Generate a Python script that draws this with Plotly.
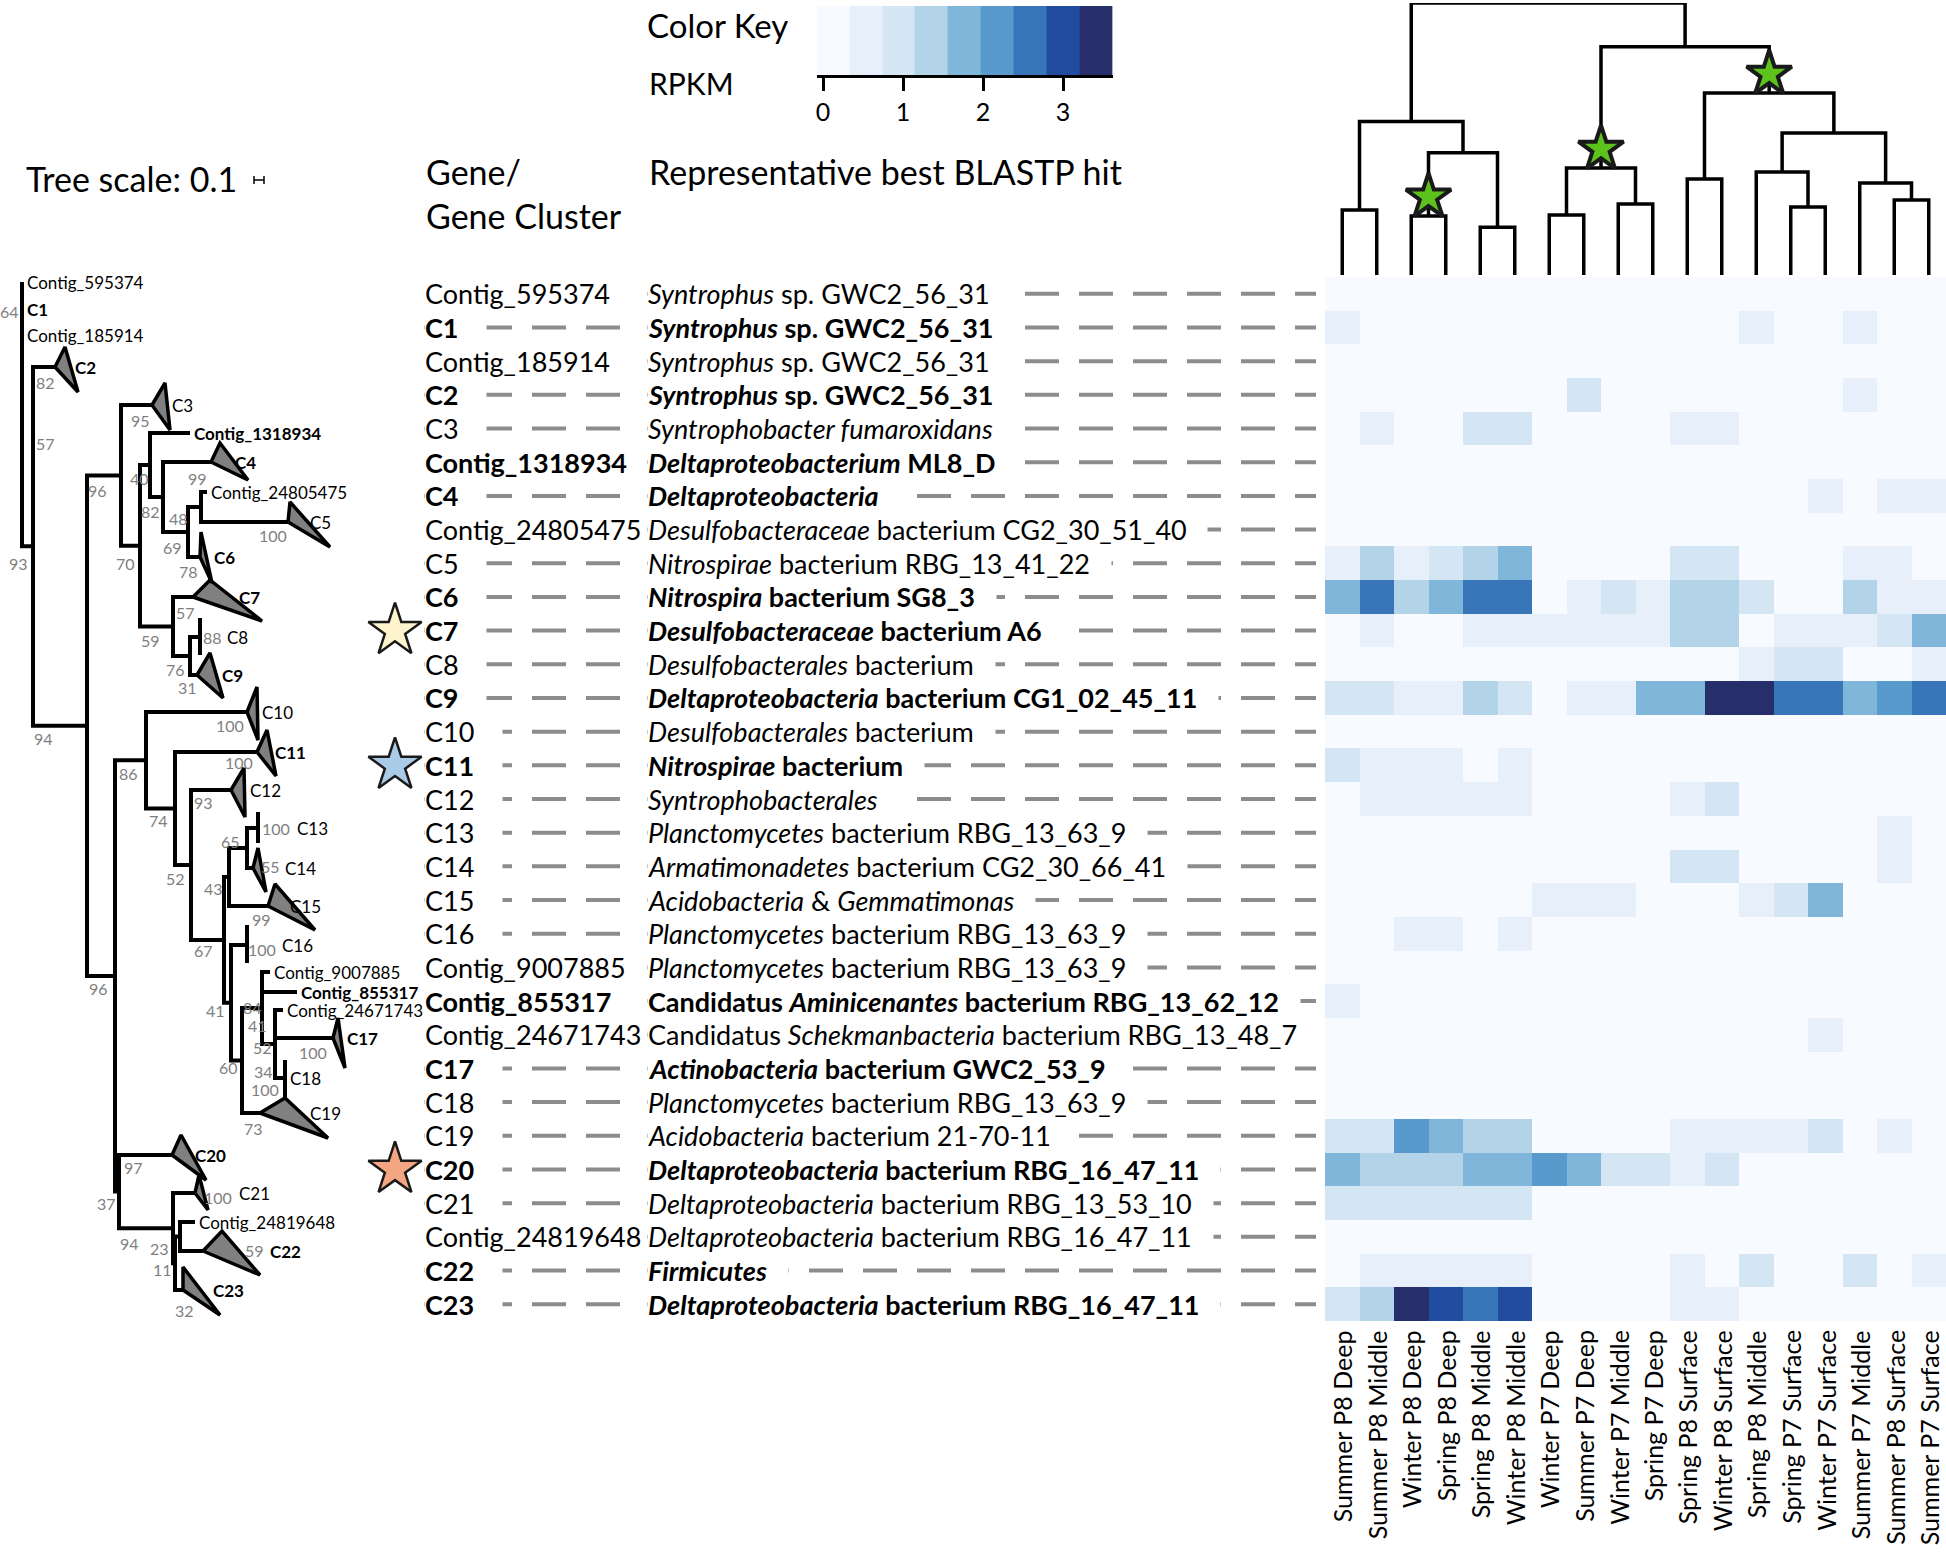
import plotly.graph_objects as go

FIG_W, FIG_H = 1946, 1563
FONT = "Lato"
NBSP = "\u00a0"

# ---------------------------------------------------------------- data
samples = ["Summer P8 Deep", "Summer P8 Middle", "Winter P8 Deep", "Spring P8 Deep",
           "Spring P8 Middle", "Winter P8 Middle", "Winter P7 Deep", "Summer P7 Deep",
           "Winter P7 Middle", "Spring P7 Deep", "Spring P8 Surface", "Winter P8 Surface",
           "Spring P8 Middle", "Spring P7 Surface", "Winter P7 Surface", "Summer P7 Middle",
           "Summer P8 Surface", "Summer P7 Surface"]

genes = ["Contig_595374", "C1", "Contig_185914", "C2", "C3", "Contig_1318934", "C4",
         "Contig_24805475", "C5", "C6", "C7", "C8", "C9", "C10", "C11", "C12", "C13",
         "C14", "C15", "C16", "Contig_9007885", "Contig_855317", "Contig_24671743",
         "C17", "C18", "C19", "C20", "C21", "Contig_24819648", "C22", "C23"]

bold_genes = {"C1", "C2", "Contig_1318934", "C4", "C6", "C7", "C9", "C11",
              "Contig_855317", "C17", "C20", "C22", "C23"}

hits = ["<i>Syntrophus</i> sp. GWC2_56_31",
        "<i>Syntrophus</i> sp. GWC2_56_31",
        "<i>Syntrophus</i> sp. GWC2_56_31",
        "<i>Syntrophus</i> sp. GWC2_56_31",
        "<i>Syntrophobacter fumaroxidans</i>",
        "<i>Deltaproteobacterium</i> ML8_D",
        "<i>Deltaproteobacteria</i>",
        "<i>Desulfobacteraceae</i> bacterium CG2_30_51_40",
        "<i>Nitrospirae</i> bacterium RBG_13_41_22",
        "<i>Nitrospira</i> bacterium SG8_3",
        "<i>Desulfobacteraceae</i> bacterium A6",
        "<i>Desulfobacterales</i> bacterium",
        "<i>Deltaproteobacteria</i> bacterium CG1_02_45_11",
        "<i>Desulfobacterales</i> bacterium",
        "<i>Nitrospirae</i> bacterium",
        "<i>Syntrophobacterales</i>",
        "<i>Planctomycetes</i> bacterium RBG_13_63_9",
        "<i>Armatimonadetes</i> bacterium CG2_30_66_41",
        "<i>Acidobacteria</i> &amp; <i>Gemmatimonas</i>",
        "<i>Planctomycetes</i> bacterium RBG_13_63_9",
        "<i>Planctomycetes</i> bacterium RBG_13_63_9",
        "Candidatus <i>Aminicenantes</i> bacterium RBG_13_62_12",
        "Candidatus <i>Schekmanbacteria</i> bacterium RBG_13_48_7",
        "<i>Actinobacteria</i> bacterium GWC2_53_9",
        "<i>Planctomycetes</i> bacterium RBG_13_63_9",
        "<i>Acidobacteria</i> bacterium 21-70-11",
        "<i>Deltaproteobacteria</i> bacterium RBG_16_47_11",
        "<i>Deltaproteobacteria</i> bacterium RBG_13_53_10",
        "<i>Deltaproteobacteria</i> bacterium RBG_16_47_11",
        "<i>Firmicutes</i>",
        "<i>Deltaproteobacteria</i> bacterium RBG_16_47_11"]

# RPKM per gene (rows) and sample (columns)
rpkm = [
    [0, 0, 0, 0, 0, 0, 0, 0, 0, 0, 0, 0, 0, 0, 0, 0, 0, 0],
    [.5, 0, 0, 0, 0, 0, 0, 0, 0, 0, 0, 0, .5, 0, 0, .5, 0, 0],
    [0, 0, 0, 0, 0, 0, 0, 0, 0, 0, 0, 0, 0, 0, 0, 0, 0, 0],
    [0, 0, 0, 0, 0, 0, 0, .9, 0, 0, 0, 0, 0, 0, 0, .5, 0, 0],
    [0, .5, 0, 0, .9, .9, 0, 0, 0, 0, .5, .5, 0, 0, 0, 0, 0, 0],
    [0, 0, 0, 0, 0, 0, 0, 0, 0, 0, 0, 0, 0, 0, 0, 0, 0, 0],
    [0, 0, 0, 0, 0, 0, 0, 0, 0, 0, 0, 0, 0, 0, .5, 0, .5, .5],
    [0, 0, 0, 0, 0, 0, 0, 0, 0, 0, 0, 0, 0, 0, 0, 0, 0, 0],
    [.5, 1.3, .5, .9, 1.3, 1.8, 0, 0, 0, 0, .9, .9, 0, 0, 0, .5, .5, 0],
    [1.8, 2.6, 1.3, 1.8, 2.6, 2.6, 0, .5, .9, .5, 1.3, 1.3, .9, 0, 0, 1.3, .5, .5],
    [0, .5, 0, 0, .5, .5, .5, .5, .5, .5, 1.3, 1.3, 0, .5, .5, .5, .9, 1.8],
    [0, 0, 0, 0, 0, 0, 0, 0, 0, 0, 0, 0, .5, .9, .9, 0, 0, .5],
    [.9, .9, .5, .5, 1.3, .9, 0, .5, .5, 1.8, 1.8, 3.4, 3.4, 2.6, 2.6, 1.8, 2.2, 2.6],
    [0, 0, 0, 0, 0, 0, 0, 0, 0, 0, 0, 0, 0, 0, 0, 0, 0, 0],
    [.9, .5, .5, .5, 0, .5, 0, 0, 0, 0, 0, 0, 0, 0, 0, 0, 0, 0],
    [0, .5, .5, .5, .5, .5, 0, 0, 0, 0, .5, .9, 0, 0, 0, 0, 0, 0],
    [0, 0, 0, 0, 0, 0, 0, 0, 0, 0, 0, 0, 0, 0, 0, 0, .5, 0],
    [0, 0, 0, 0, 0, 0, 0, 0, 0, 0, .9, .9, 0, 0, 0, 0, .5, 0],
    [0, 0, 0, 0, 0, 0, .5, .5, .5, 0, 0, 0, .5, .9, 1.8, 0, 0, 0],
    [0, 0, .5, .5, 0, .5, 0, 0, 0, 0, 0, 0, 0, 0, 0, 0, 0, 0],
    [0, 0, 0, 0, 0, 0, 0, 0, 0, 0, 0, 0, 0, 0, 0, 0, 0, 0],
    [.5, 0, 0, 0, 0, 0, 0, 0, 0, 0, 0, 0, 0, 0, 0, 0, 0, 0],
    [0, 0, 0, 0, 0, 0, 0, 0, 0, 0, 0, 0, 0, 0, .5, 0, 0, 0],
    [0, 0, 0, 0, 0, 0, 0, 0, 0, 0, 0, 0, 0, 0, 0, 0, 0, 0],
    [0, 0, 0, 0, 0, 0, 0, 0, 0, 0, 0, 0, 0, 0, 0, 0, 0, 0],
    [.9, .9, 2.2, 1.8, 1.3, 1.3, 0, 0, 0, 0, .5, .5, .5, .5, .9, 0, .5, 0],
    [1.8, 1.3, 1.3, 1.3, 1.8, 1.8, 2.2, 1.8, .9, .9, .5, .9, 0, 0, 0, 0, 0, 0],
    [.9, .9, .9, .9, .9, .9, 0, 0, 0, 0, 0, 0, 0, 0, 0, 0, 0, 0],
    [0, 0, 0, 0, 0, 0, 0, 0, 0, 0, 0, 0, 0, 0, 0, 0, 0, 0],
    [0, .5, .5, .5, .5, .5, 0, 0, 0, 0, .5, 0, .9, 0, 0, .9, 0, .5],
    [.9, 1.3, 3.4, 3.0, 2.6, 3.0, 0, 0, 0, 0, .5, .5, 0, 0, 0, 0, 0, 0],
]

# colour key (RPKM bins)
key_edges = [-0.08, 0.33, 0.74, 1.15, 1.56, 1.97, 2.38, 2.79, 3.20, 3.62]
key_colors = ["#f7fbff", "#e7f0fa", "#d4e5f4", "#b2d3e8", "#7fb6da",
              "#589acb", "#3875b9", "#214c9f", "#262f69"]
key_ticks = [0, 1, 2, 3]

# sample dendrogram: (child a, child b, height); new nodes numbered from 18
col_merges = [(0, 1, 2.39), (2, 3, 2.17), (4, 5, 1.76), (19, 20, 4.49), (18, 21, 5.64),
              (6, 7, 2.21), (8, 9, 2.61), (23, 24, 3.93), (10, 11, 3.53), (13, 14, 2.50),
              (12, 27, 3.79), (16, 17, 2.76), (15, 29, 3.38), (28, 30, 5.22),
              (26, 31, 6.69), (25, 32, 8.39), (22, 33, 10.0)]
starred_merges = [1, 7, 14]

# gene tree: internal nodes (name, depth, children)
tree_nodes = [
    ("ROOT", 0.00, ["G64", "S"]),
    ("G64", 0.00, ["Contig_595374", "C1", "Contig_185914"]),
    ("S", 0.11, ["C2", "T"]),
    ("T", 0.65, ["N121", "N115"]),
    ("N121", 0.99, ["C3", "N140"]),
    ("N140", 1.18, ["N150", "N173"]),
    ("N150", 1.28, ["Contig_1318934", "N163"]),
    ("N163", 1.41, ["C4", "N188"]),
    ("N188", 1.66, ["N201", "C6"]),
    ("N201", 1.79, ["Contig_24805475", "C5"]),
    ("N173", 1.51, ["C7", "N190"]),
    ("N190", 1.68, ["C8", "C9"]),
    ("N115", 0.93, ["N146", "P37"]),
    ("N146", 1.24, ["C10", "N175"]),
    ("N175", 1.53, ["C11", "N191"]),
    ("N191", 1.69, ["C12", "N224"]),
    ("N224", 2.02, ["N229", "N231"]),
    ("N229", 2.07, ["N247", "C15"]),
    ("N247", 2.25, ["C13", "C14"]),
    ("N231", 2.09, ["C16", "N242"]),
    ("N242", 2.20, ["N262", "C19"]),
    ("N262", 2.40, ["Contig_9007885", "Contig_855317", "N275"]),
    ("N275", 2.53, ["Contig_24671743", "C17", "C18"]),
    ("P37", 0.97, ["C20", "P94"]),
    ("P94", 1.51, ["C21", "P11"]),
    ("P11", 1.53, ["P23", "C23"]),
    ("P23", 1.58, ["Contig_24819648", "C22"]),
]

# leaf vertical position, branch-end depth, label depth (same order as genes)
leaf_pos = [282, 309, 335, 367, 405, 433, 462, 492, 522, 557, 597, 637, 675, 712, 752,
            790, 828, 868, 906, 945, 972, 992, 1010, 1038, 1078, 1113, 1155, 1193,
            1222, 1251, 1290]
leaf_depth = [0.00, 0.00, 0.00, 0.33, 1.30, 1.68, 1.89, 1.85, 2.66, 1.78, 1.71, 1.78,
              1.75, 2.25, 2.35, 2.09, 2.36, 2.31, 2.46, 2.25, 2.48, 2.75, 2.61, 3.11,
              2.63, 2.38, 1.50, 1.73, 1.73, 1.81, 1.61]
leaf_label_depth = [0.03, 0.03, 0.03, 0.51, 1.48, 1.70, 2.11, 1.87, 2.86, 1.90, 2.15,
                    2.03, 1.98, 2.38, 2.51, 2.26, 2.73, 2.61, 2.66, 2.58, 2.50, 2.77,
                    2.63, 3.23, 2.66, 2.86, 1.71, 2.15, 1.75, 2.46, 1.89]

# collapsed clades: (top depth, top pos, bottom depth, bottom pos)
collapsed = {
    "C2": (0.43, 347, 0.56, 392), "C3": (1.43, 383, 1.48, 430),
    "C4": (1.98, 443, 2.26, 480), "C5": (2.68, 502, 3.08, 547),
    "C6": (1.79, 532, 1.90, 583), "C7": (1.88, 580, 2.40, 621),
    "C9": (1.88, 653, 2.01, 698), "C10": (2.35, 687, 2.36, 740),
    "C11": (2.45, 730, 2.54, 776), "C12": (2.22, 768, 2.23, 817),
    "C14": (2.36, 848, 2.44, 892), "C15": (2.53, 884, 2.93, 930),
    "C17": (3.16, 1018, 3.23, 1068), "C19": (2.63, 1098, 3.06, 1138),
    "C20": (1.59, 1135, 1.84, 1180), "C21": (1.77, 1175, 1.86, 1210),
    "C22": (2.00, 1231, 2.38, 1275), "C23": (1.61, 1267, 1.98, 1315),
}
# clades with zero-length tips (drawn as a bar)
flat_clades = {"C8": (618, 655), "C13": (812, 843), "C16": (925, 963), "C18": (1060, 1097)}

boot_text = ["64", "82", "57", "93", "95", "96", "40", "70", "99", "82", "48", "69", "100",
             "78", "57", "59", "88", "76", "31", "94", "100", "86", "100", "93", "74", "65",
             "100", "55", "52", "43", "99", "67", "100", "96", "41", "84", "41", "52", "100",
             "60", "34", "100", "73", "97", "37", "100", "94", "23", "59", "11", "32"]
boot_depth = [-0.13, 0.23, 0.23, -0.04, 1.18, 0.75, 1.17, 1.03, 1.75, 1.28, 1.56, 1.50,
              2.51, 1.66, 1.63, 1.28, 1.90, 1.53, 1.65, 0.21, 2.08, 1.06, 2.17, 1.81, 1.36,
              2.08, 2.54, 2.48, 1.53, 1.91, 2.39, 1.81, 2.40, 0.76, 1.93, 2.30, 2.35, 2.40,
              2.91, 2.06, 2.41, 2.43, 2.31, 1.11, 0.84, 1.96, 1.07, 1.37, 2.32, 1.40, 1.62]
boot_pos = [311, 382, 443, 563, 420, 490, 478, 563, 478, 511, 518, 547, 535, 571, 612,
            640, 637, 669, 687, 738, 725, 773, 762, 802, 820, 841, 828, 866, 878, 888,
            919, 950, 949, 988, 1010, 1007, 1025, 1047, 1052, 1067, 1071, 1089, 1128,
            1167, 1203, 1197, 1243, 1248, 1250, 1269, 1310]

highlight_genes = {"C7": "#fdf3cd", "C11": "#a9cbe7", "C20": "#f4a582"}
TREE_SCALE = 0.1

# ---------------------------------------------------------------- layout constants (px)
HM_LEFT, HM_TOP, HM_BOTTOM = 1325, 277, 1321
GENE_X, HIT_X, GENE_DASH_END, DASH_END = 424, 647, 636, 1316
TREE_W, TREE_ORIGIN, TREE_PX = 420, 22, 100   # tree panel width, root px, px per unit
STAR_PX = 395


def px_x(v):
    return v / FIG_W


def px_y(v):
    return 1 - v / FIG_H


def tree_x(px):
    return (px - TREE_ORIGIN) / TREE_PX


fig = go.Figure()

# ---------------------------------------------------------------- heatmap
cs = []
lo, hi = key_edges[0], key_edges[-1]
for i, c in enumerate(key_colors):
    cs.append([(key_edges[i] - lo) / (hi - lo), c])
    cs.append([(key_edges[i + 1] - lo) / (hi - lo), c])

fig.add_trace(go.Heatmap(z=rpkm, x=list(range(len(samples))), y=list(range(len(genes))),
                         colorscale=cs, zmin=lo, zmax=hi, showscale=False,
                         hoverinfo="skip", xaxis="x", yaxis="y"))

# colour key
key_centers = [(a + b) / 2 for a, b in zip(key_edges[:-1], key_edges[1:])]
fig.add_trace(go.Heatmap(z=[key_centers], x=key_centers, y=[0], colorscale=cs,
                         zmin=lo, zmax=hi, showscale=False, hoverinfo="skip",
                         xaxis="x4", yaxis="y4"))

# ---------------------------------------------------------------- sample dendrogram
cx = {i: float(i) for i in range(len(samples))}
ch = {i: 0.0 for i in range(len(samples))}
dx, dy = [], []
for k, (a, b, h) in enumerate(col_merges):
    n = len(samples) + k
    dx += [cx[a], cx[a], cx[b], cx[b], None]
    dy += [ch[a], h, h, ch[b], None]
    cx[n] = (cx[a] + cx[b]) / 2
    ch[n] = h
fig.add_trace(go.Scatter(x=dx, y=dy, mode="lines", line=dict(color="black", width=3.5),
                         xaxis="x", yaxis="y3", hoverinfo="skip", showlegend=False))
sx = [cx[len(samples) + k] for k in starred_merges]
sy = [col_merges[k][2] + 0.7 for k in starred_merges]
fig.add_trace(go.Scatter(x=sx, y=sy, mode="markers", xaxis="x", yaxis="y3",
                         marker=dict(symbol="star", size=34, color="#5ec21c",
                                     line=dict(color="#1a1a1a", width=4)),
                         cliponaxis=False, hoverinfo="skip", showlegend=False))

# ---------------------------------------------------------------- gene tree
pos = dict(zip(genes, leaf_pos))
start = dict(zip(genes, leaf_depth))
node_kids = {}
for name, d, kids in tree_nodes:
    start[name] = d
    node_kids[name] = kids


def place(n):
    if n in pos:
        return pos[n]
    ys = [place(k) for k in node_kids[n]]
    pos[n] = (min(ys) + max(ys)) / 2
    return pos[n]


place("ROOT")

tx, ty = [], []
for name, d, kids in tree_nodes:
    ks = sorted(kids, key=lambda k: pos[k])
    first, last = ks[0], ks[-1]
    tx += [start[first], d, d, start[last], None]
    ty += [pos[first], pos[first], pos[last], pos[last], None]
    for k in ks[1:-1]:
        tx += [d, start[k], None]
        ty += [pos[k], pos[k], None]
for g, (top, bot) in flat_clades.items():
    tx += [start[g], start[g], None]
    ty += [top, bot, None]
fig.add_trace(go.Scatter(x=tx, y=ty, mode="lines", line=dict(color="black", width=4),
                         xaxis="x2", yaxis="y2", hoverinfo="skip", showlegend=False))

px_, py_ = [], []
for g, (d1, p1, d2, p2) in collapsed.items():
    px_ += [start[g], d1, d2, start[g], None]
    py_ += [pos[g], p1, p2, pos[g], None]
fig.add_trace(go.Scatter(x=px_, y=py_, mode="lines", fill="toself", fillcolor="#808080",
                         line=dict(color="black", width=3.5), xaxis="x2", yaxis="y2",
                         hoverinfo="skip", showlegend=False))

# tree scale bar
bar_x0 = tree_x(254)
sb_x = [bar_x0, bar_x0, None, bar_x0, bar_x0 + TREE_SCALE, None,
        bar_x0 + TREE_SCALE, bar_x0 + TREE_SCALE]
sb_y = [176, 184, None, 180, 180, None, 176, 184]
fig.add_trace(go.Scatter(x=sb_x, y=sb_y, mode="lines", line=dict(color="black", width=1.5),
                         xaxis="x2", yaxis="y2", hoverinfo="skip", showlegend=False))

# highlighted genes (stars beside the table)
hl = [g for g in genes if g in highlight_genes]
fig.add_trace(go.Scatter(x=[tree_x(STAR_PX)] * len(hl), y=[genes.index(g) for g in hl],
                         mode="markers", xaxis="x2", yaxis="y", cliponaxis=False,
                         marker=dict(symbol="star", size=40,
                                     color=[highlight_genes[g] for g in hl],
                                     line=dict(color="#1a1a1a", width=2.5)),
                         hoverinfo="skip", showlegend=False))

# ---------------------------------------------------------------- annotations / shapes
ann = []
shapes = []


def text(x, y, s, size, xref="paper", yref="paper", **kw):
    d = dict(x=x, y=y, xref=xref, yref=yref, text=s, showarrow=False,
             font=dict(family=FONT, size=size, color=kw.pop("color", "black")),
             xanchor=kw.pop("xanchor", "left"), yanchor=kw.pop("yanchor", "middle"))
    d.update(kw)
    ann.append(d)


# headers
text(px_x(24), px_y(178), "Tree scale: 0.1", 34)
text(px_x(GENE_X), px_y(171), "Gene/", 34)
text(px_x(GENE_X), px_y(215), "Gene Cluster", 34)
text(px_x(HIT_X), px_y(171), "Representative best BLASTP hit", 34)
text(px_x(645), px_y(25), "Color Key", 33)
text(px_x(647), px_y(83), "RPKM", 30)

# table rows
for i, (g, h) in enumerate(zip(genes, hits)):
    b = g in bold_genes
    gl = f"<b>{g}</b>" if b else g
    hl_txt = f"<b>{h}</b>" if b else h
    if not g.startswith("Contig"):
        shapes.append(dict(type="line", xref="paper", yref="y", x0=px_x(GENE_X),
                           x1=px_x(GENE_DASH_END), y0=i, y1=i,
                           line=dict(color="#8c8c8c", width=4, dash="34px,20px")))
        gl += NBSP * 4
    shapes.append(dict(type="line", xref="paper", yref="y", x0=px_x(HIT_X),
                       x1=px_x(DASH_END), y0=i, y1=i,
                       line=dict(color="#8c8c8c", width=4, dash="34px,20px")))
    text(px_x(GENE_X), i, gl, 27, yref="y", bgcolor="white", borderpad=0)
    text(px_x(HIT_X), i, hl_txt + NBSP * 3, 27, yref="y", bgcolor="white", borderpad=0)

# sample labels
for j, s in enumerate(samples):
    text(j, px_y(1328), s, 25, xref="x", textangle=-90, xanchor="center", yanchor="top")

# tree leaf labels
for g, p, d in zip(genes, leaf_pos, leaf_label_depth):
    s = f"<b>{g}</b>" if g in bold_genes else g
    text(d, p, s, 17, xref="x2", yref="y2")

# bootstrap values
for s, d, p in zip(boot_text, boot_depth, boot_pos):
    text(d, p, s, 16, xref="x2", yref="y2", xanchor="center", color="#7f7f7f")

hidden = dict(visible=False, showgrid=False, zeroline=False, fixedrange=True)

fig.update_layout(
    width=FIG_W, height=FIG_H,
    margin=dict(l=0, r=0, t=0, b=0),
    paper_bgcolor="white", plot_bgcolor="rgba(0,0,0,0)",
    showlegend=False,
    font=dict(family=FONT, color="black"),
    xaxis=dict(domain=[px_x(HM_LEFT), 1], range=[-0.5, len(samples) - 0.5],
               anchor="y", **hidden),
    yaxis=dict(domain=[px_y(HM_BOTTOM), px_y(HM_TOP)], range=[len(genes) - 0.5, -0.5],
               anchor="x", **hidden),
    xaxis2=dict(domain=[0, px_x(TREE_W)],
                range=[tree_x(0), tree_x(TREE_W)], anchor="y2", **hidden),
    yaxis2=dict(domain=[0, 1], range=[FIG_H, 0], anchor="x2", **hidden),
    yaxis3=dict(domain=[px_y(275), px_y(3)], range=[0, 10], anchor="x", **hidden),
    xaxis4=dict(domain=[px_x(816.6), px_x(1112.6)], range=[lo, hi], anchor="y4",
                showline=True, linecolor="black", linewidth=2.5, ticks="outside",
                ticklen=13, tickwidth=3, tickcolor="black", tickvals=key_ticks,
                tickfont=dict(family=FONT, size=25, color="black"),
                showgrid=False, zeroline=False, fixedrange=True),
    yaxis4=dict(domain=[px_y(75), px_y(6)], range=[-0.5, 0.5], anchor="x4", **hidden),
    annotations=ann,
    shapes=shapes,
)

# the page body normally has an 8px margin; drop it so the figure sits at the corner
fig.write_html("out.html", config={"displayModeBar": False},
               post_script="document.body.style.margin='0px';")
